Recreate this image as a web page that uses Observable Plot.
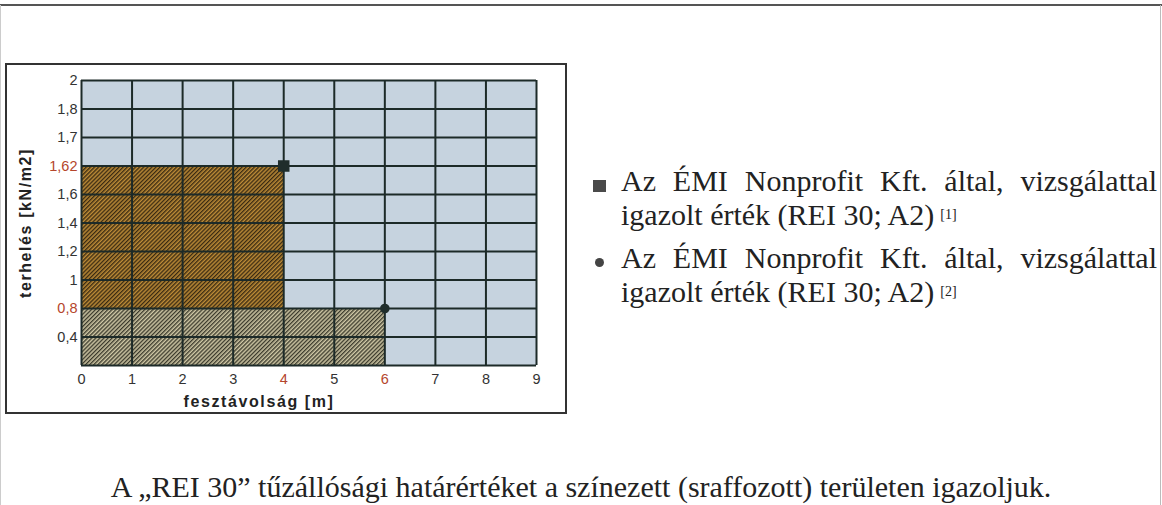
<!DOCTYPE html>
<html><head><meta charset="utf-8">
<script src="https://cdn.jsdelivr.net/npm/d3@7"></script>
<script src="https://cdn.jsdelivr.net/npm/@observablehq/plot@0.6"></script>
<style>
body{margin:0;background:#fff;width:1162px;height:505px;position:relative;overflow:hidden;font-family:"Liberation Serif","Times New Roman",serif;}
#topline{position:absolute;left:0;top:4px;width:1162px;height:2px;background:#555;}
#leftline{position:absolute;left:0;top:5px;width:1px;height:500px;background:#ccc;}
#rightline{position:absolute;left:1160px;top:5px;width:1px;height:500px;background:#bbb;}
#frame{position:absolute;left:5px;top:63px;width:558px;height:347px;border:2px solid #333;}
#chart{position:absolute;left:0;top:0;}
#legend{position:absolute;left:0;top:0;}
#sq{position:absolute;left:593px;top:180px;width:13px;height:12px;background:#4a4a4a;}
#bul{position:absolute;left:595px;top:258px;width:9px;height:9px;border-radius:50%;background:#444;}
#caption{position:absolute;left:0;width:1162px;text-align:center;font-size:30px;line-height:27px;color:#222;top:473px;white-space:nowrap;}
</style></head>
<body>
<div id="topline"></div><div id="leftline"></div><div id="rightline"></div>
<div id="frame"><div id="chart"></div></div>
<div id="sq"></div>
<div id="bul"></div>
<svg id="legend" width="1162" height="505"></svg>
<div id="caption">A „REI 30” tűzállósági határértéket a színezett (sraffozott) területen igazoljuk.</div>
<script>
const xTicks = [0, 1, 2, 3, 4, 5, 6, 7, 8, 9];
const yTicks = [0, 0.4, 0.8, 1, 1.2, 1.4, 1.6, 1.62, 1.7, 1.8, 2];
const yLabels = ["", "0,4", "0,8", "1", "1,2", "1,4", "1,6", "1,62", "1,7", "1,8", "2"];
const redX = [4, 6];
const redY = [0.8, 1.62];
const zoneX1 = [0, 0];
const zoneX2 = [6, 4];
const zoneY1 = [0, 0.8];
const zoneY2 = [0.8, 1.62];
const zoneFill = ["url(#hatchLower)", "url(#hatchUpper)"];
const pointX = [4, 6];
const pointY = [1.62, 0.8];
const pointSymbol = ["square", "circle"];
const legendLine1 = ["Az ÉMI Nonprofit Kft. által, vizsgálattal", "Az ÉMI Nonprofit Kft. által, vizsgálattal"];
const legendLine2 = ["igazolt érték (REI 30; A2)", "igazolt érték (REI 30; A2)"];
const legendRef = ["[1]", "[2]"];

// the value axis is drawn with equally spaced ticks (non-linear), so positions follow the tick order
const yi = v => yTicks.indexOf(v);
const zones = zoneX1.map((d, i) => ({x1: d, x2: zoneX2[i], y1: zoneY1[i], y2: zoneY2[i], fill: zoneFill[i]}));
const points = pointX.map((d, i) => ({x: d, y: pointY[i], symbol: pointSymbol[i]}));
const yLab = yTicks.map((d, i) => ({v: d, label: yLabels[i]}));
const RED = "#b5462c", INK = "#333", GRID = "#1c2a28";
const TICKFONT = "'Liberation Sans Narrow', 'Arial Narrow', Arial, sans-serif";

const chart = Plot.plot({
  width: 558, height: 347,
  marginLeft: 74, marginTop: 15, marginRight: 29, marginBottom: 47,
  x: {domain: [0, 9], axis: null},
  y: {domain: [0, yTicks.length - 1], axis: null},
  color: {type: "identity"},
  style: {background: "transparent", fontFamily: "'Liberation Sans', Arial, sans-serif", fontSize: "14.5px", color: INK},
  marks: [
    Plot.frame({fill: "#c6d3df"}),
    Plot.rect(zones, {x1: "x1", x2: "x2", y1: d => yi(d.y1), y2: d => yi(d.y2), fill: d => d.fill}),
    Plot.ruleX(xTicks, {x: d => d, stroke: GRID, strokeWidth: 2}),
    Plot.ruleY(yTicks, {y: d => yi(d), stroke: GRID, strokeWidth: 2}),
    Plot.dot(points.filter(d => d.symbol === "square"), {x: "x", y: d => yi(d.y), symbol: "square", r: 6.5, fill: "#1f2d2b"}),
    Plot.dot(points.filter(d => d.symbol === "circle"), {x: "x", y: d => yi(d.y), symbol: "circle", r: 4.8, fill: "#1f2d2b"}),
    Plot.text(xTicks, {x: d => d, frameAnchor: "bottom", dy: 14, lineAnchor: "middle", text: d => String(d), fontFamily: TICKFONT, fill: d => redX.includes(d) ? RED : INK}),
    Plot.text(yLab, {y: d => yi(d.v), frameAnchor: "left", dx: -4, textAnchor: "end", lineAnchor: "middle", text: "label", fontFamily: TICKFONT, fill: d => redY.includes(d.v) ? RED : INK}),
    Plot.text(["terhelés [kN/m2]"], {frameAnchor: "left", textAnchor: "middle", lineAnchor: "middle", dx: -56, rotate: -90, fontWeight: "bold", fontSize: 16, fill: "#222"}),
    Plot.text(["fesztávolság [m]"], {frameAnchor: "bottom", textAnchor: "middle", dx: -50, dy: 36, lineAnchor: "middle", fontWeight: "bold", fontSize: 16, fill: "#222"})
  ]
});
const svg = d3.select(chart);
svg.selectAll("text").each(function(){
  if (this.textContent.indexOf("[") >= 0) this.setAttribute("letter-spacing", "1.6px");
});
const defs = svg.insert("defs", ":first-child");
function hatch(id, bg, fg) {
  const p = defs.append("pattern").attr("id", id).attr("patternUnits", "userSpaceOnUse")
    .attr("width", 2.9).attr("height", 2.9).attr("patternTransform", "rotate(45)");
  p.append("rect").attr("width", 2.9).attr("height", 2.9).attr("fill", bg);
  p.append("rect").attr("width", 1.35).attr("height", 2.9).attr("fill", fg);
}
hatch("hatchUpper", "#bb8a36", "#3a2a12");
hatch("hatchLower", "#cdc6a4", "#3b3a2c");
document.getElementById("chart").appendChild(chart);

// legend: two justified entries, each one text element (line 1 justified, line 2 with reference mark)
const leg = d3.select("#legend");
const LEFT = 621, WIDTH = 536, base = [190.5, 267.5], LINE = 34;
legendLine1.forEach((line1, k) => {
  const t = leg.append("text").attr("font-family", "'Liberation Serif', 'Times New Roman', serif")
    .attr("font-size", 30).attr("fill", "#222");
  const l1 = t.append("tspan").attr("x", LEFT).attr("y", base[k]).text(line1);
  const spaces = line1.split(" ").length - 1;
  const w = l1.node().getComputedTextLength();
  l1.attr("word-spacing", Math.max(0, (WIDTH - w) / spaces));
  t.append("tspan").attr("x", LEFT).attr("y", base[k] + LINE).attr("word-spacing", 0).text(legendLine2[k]);
  t.append("tspan").attr("dx", 6).attr("dy", -6).attr("font-size", 14).text(legendRef[k]);
});
</script>
</body></html>
